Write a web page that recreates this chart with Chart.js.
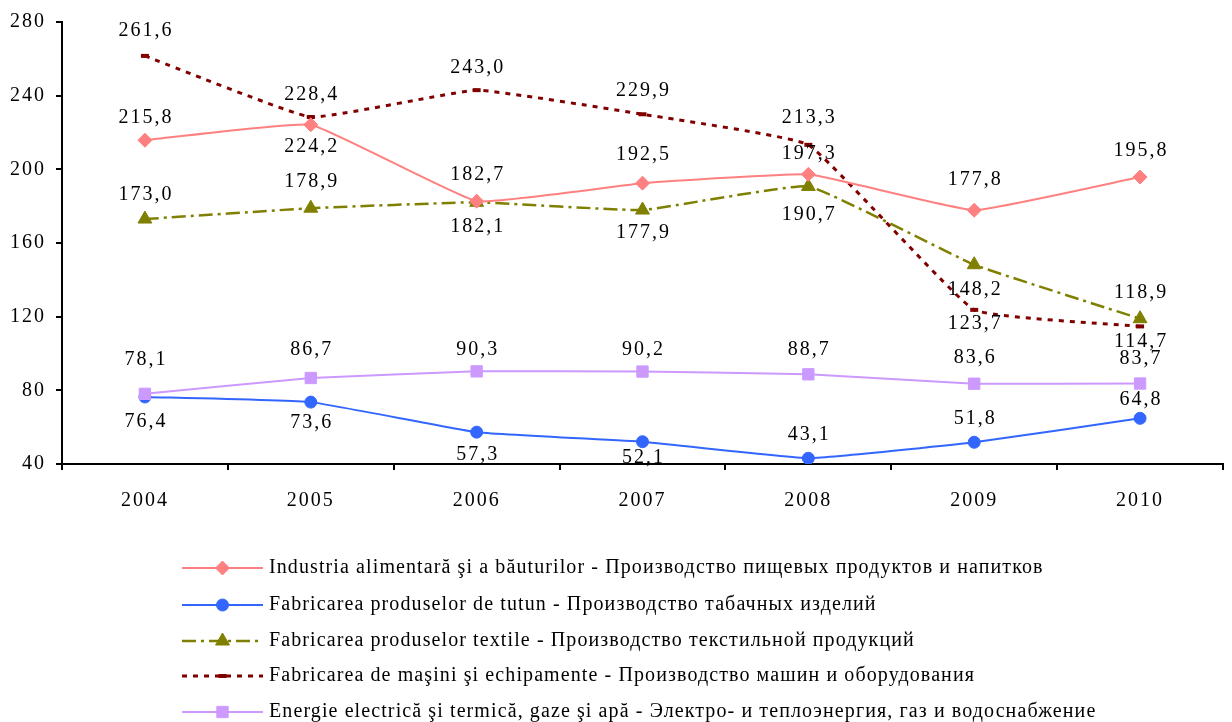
<!DOCTYPE html>
<html>
<head>
<meta charset="utf-8">
<script src="https://cdn.jsdelivr.net/npm/chart.js@4.4.1/dist/chart.umd.min.js"></script>
<style>
  html, body { margin: 0; padding: 0; background: #fff; }
  #wrap { width: 1232px; height: 722px; position: relative; }
</style>
</head>
<body>
<div id="wrap"><canvas id="c"></canvas></div>
<script>
// ---- data ----
const years = ['2004', '2005', '2006', '2007', '2008', '2009', '2010'];
const alimentara = [215.8, 224.2, 182.7, 192.5, 197.3, 177.8, 195.8];
const tutun      = [76.4, 73.6, 57.3, 52.1, 43.1, 51.8, 64.8];
const textile    = [173.0, 178.9, 182.1, 177.9, 190.7, 148.2, 118.9];
const masini     = [261.6, 228.4, 243.0, 229.9, 213.3, 123.7, 114.7];
const energie    = [78.1, 86.7, 90.3, 90.2, 88.7, 83.6, 83.7];
const yTicks     = [40, 80, 120, 160, 200, 240, 280];

const seriesNames = [
  'Industria alimentară şi a băuturilor - Производство пищевых продуктов и напитков',
  'Fabricarea produselor de tutun - Производство табачных изделий',
  'Fabricarea produselor textile - Производство текстильной продукций',
  'Fabricarea de maşini şi echipamente - Производство машин и оборудования',
  'Energie electrică şi termică, gaze şi apă - Электро- и теплоэнергия, газ и водоснабжение'
];

// label vertical offsets (px) relative to each point, negative = above
const labelDyAlimentara = [-22, 22, -26, -28, -21, -30, -26];
const labelDyTutun      = [25, 21, 23, 16, -24, -24, -19];
const labelDyTextile    = [-24, -26, 24, 23, 28, 25, -26];
const labelDyMasini     = [-25, -22, -22, -24, -27, 14, 15];
const labelDyEnergie    = [-34, -28, -22, -22, -25, -26, -25];

const FONT = '"Liberation Serif", "Times New Roman", serif';

const labelPlugin = {
  id: 'valueLabels',
  afterDatasetsDraw(chart) {
    const ctx = chart.ctx;
    ctx.save();
    ctx.font = '20px ' + FONT;
    ctx.letterSpacing = '2px';
    ctx.fillStyle = '#000';
    ctx.textAlign = 'center';
    ctx.textBaseline = 'middle';
    chart.data.datasets.forEach((ds, i) => {
      const meta = chart.getDatasetMeta(i);
      meta.data.forEach((pt, j) => {
        const txt = ds.data[j].toFixed(1).replace('.', ',');
        ctx.fillText(txt, pt.x + 1, pt.y + ds.labelDy[j]);
      });
    });
    ctx.restore();
  }
};

const legendPlugin = {
  id: 'customLegend',
  afterDraw(chart) {
    const ctx = chart.ctx;
    const x0 = 182, x1 = 263, tx = 269;
    const rows = [568, 605, 641, 676, 712];
    chart.data.datasets.forEach((ds, i) => {
      const y = rows[i];
      ctx.save();
      ctx.strokeStyle = ds.borderColor;
      ctx.lineWidth = ds.borderWidth;
      ctx.setLineDash(ds.borderDash || []);
      ctx.beginPath();
      ctx.moveTo(x0, y);
      ctx.lineTo(x1, y);
      ctx.stroke();
      ctx.setLineDash([]);
      ctx.fillStyle = ds.pointBackgroundColor;
      ctx.strokeStyle = ds.pointBorderColor;
      ctx.lineWidth = ds.pointBorderWidth;
      Chart.helpers.drawPoint(ctx, {
        pointStyle: ds.pointStyle,
        radius: ds.pointRadius,
        rotation: 0,
        borderWidth: ds.pointBorderWidth
      }, (x0 + x1) / 2, y);
      ctx.restore();
      ctx.save();
      ctx.font = '20px ' + FONT;
      ctx.letterSpacing = '1.1px';
      ctx.fillStyle = '#000';
      ctx.textAlign = 'left';
      ctx.textBaseline = 'middle';
      ctx.fillText(ds.label, tx, y);
      ctx.restore();
    });
  }
};

const spacingPlugin = {
  id: 'spacing',
  beforeLayout(chart) { chart.ctx.letterSpacing = '2px'; },
  beforeDraw(chart) { chart.ctx.letterSpacing = '2px'; }
};

function ds(label, data, color, opts) {
  return Object.assign({
    label, data,
    borderColor: color,
    backgroundColor: color,
    pointBackgroundColor: color,
    pointBorderColor: color,
    pointBorderWidth: 1,
    borderWidth: 2,
    tension: 0.1,
    fill: false
  }, opts);
}

const datasets = [
  ds(seriesNames[4], energie, '#CC99FF', { pointStyle: 'rect', pointRadius: 8, labelDy: labelDyEnergie }),
  ds(seriesNames[0], alimentara, '#FF8080', { pointStyle: 'rectRot', pointRadius: 7, labelDy: labelDyAlimentara }),
  ds(seriesNames[1], tutun, '#3366FF', { pointStyle: 'circle', pointRadius: 6, labelDy: labelDyTutun }),
  ds(seriesNames[2], textile, '#808000', { pointStyle: 'triangle', pointRadius: 8, borderWidth: 2.5, borderDash: [14, 5, 3, 5], labelDy: labelDyTextile }),
  ds(seriesNames[3], masini, '#800000', { pointStyle: 'line', pointRadius: 4, pointBorderWidth: 4, borderWidth: 3, borderDash: [5, 6], labelDy: labelDyMasini })
];
// legend order follows seriesNames order
const legendOrder = [1, 2, 3, 4, 0];

const legendPluginOrdered = {
  id: 'customLegendOrdered',
  afterDraw(chart) {
    const fake = { ctx: chart.ctx, data: { datasets: legendOrder.map(k => chart.data.datasets[k]) } };
    legendPlugin.afterDraw(fake);
  }
};

new Chart(document.getElementById('c'), {
  type: 'line',
  data: { labels: years, datasets },
  options: {
    responsive: true,
    maintainAspectRatio: false,
    animation: false,
    layout: { padding: { top: 22, right: 3, bottom: 198, left: 0 } },
    plugins: { legend: { display: false }, tooltip: { enabled: false } },
    scales: {
      x: {
        offset: true,
        grid: { offset: true, drawOnChartArea: false, drawTicks: true, tickLength: 6, color: '#000', lineWidth: 2 },
        border: { color: '#000', width: 2 },
        ticks: { color: '#000', font: { family: FONT, size: 20 }, padding: 19, maxRotation: 0 },
        afterFit(s) { s.height = 60; }
      },
      y: {
        min: 40, max: 280,
        afterBuildTicks(s) { s.ticks = yTicks.map(v => ({ value: v })); },
        grid: { drawOnChartArea: false, drawTicks: true, tickLength: 6, color: '#000', lineWidth: 2 },
        border: { color: '#000', width: 2 },
        ticks: { color: '#000', font: { family: FONT, size: 20 }, padding: 10 },
        afterFit(s) { s.width = 62; }
      }
    }
  },
  plugins: [spacingPlugin, labelPlugin, legendPluginOrdered]
});
</script>
</body>
</html>
